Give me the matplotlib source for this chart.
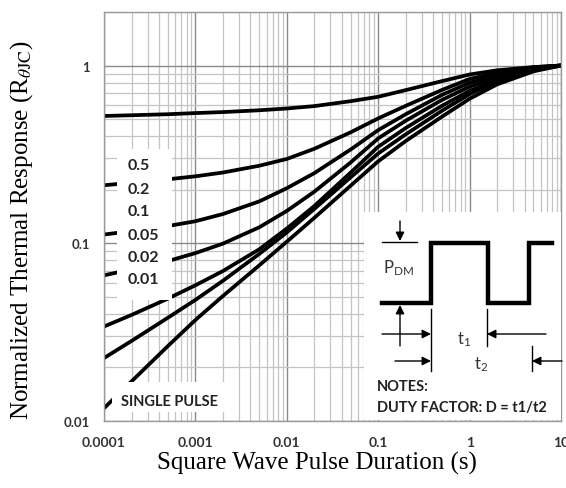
import numpy as np
import matplotlib
matplotlib.use("Agg")
from matplotlib import pyplot as plt
from matplotlib import patches
from matplotlib.ticker import LogLocator, FixedLocator, FixedFormatter, NullFormatter

plt.rcParams["mathtext.fontset"] = "stix"

# pulse duration (s) and normalized thermal response per duty factor
durations = [1e-4, 2e-4, 5e-4, 1e-3, 2e-3, 5e-3, 1e-2, 2e-2, 5e-2, 0.1, 0.2, 0.5, 1, 2, 5, 10]
r_d05 = [0.52, 0.525, 0.532, 0.54, 0.547, 0.56, 0.573, 0.591, 0.63, 0.667, 0.727, 0.817,
         0.89, 0.94, 0.98, 1.0]
r_d02 = [0.212, 0.219, 0.229, 0.238, 0.25, 0.273, 0.298, 0.34, 0.421, 0.504, 0.593, 0.729,
         0.84, 0.912, 0.977, 1.0]
r_d01 = [0.112, 0.117, 0.125, 0.133, 0.146, 0.172, 0.204, 0.248, 0.337, 0.433, 0.532, 0.684,
         0.80, 0.887, 0.97, 1.0]
r_d005 = [0.066, 0.0713, 0.0794, 0.088, 0.0995, 0.123, 0.152, 0.195, 0.285, 0.389, 0.489,
          0.641, 0.76, 0.861, 0.959, 1.0]
r_d002 = [0.034, 0.0395, 0.0488, 0.058, 0.0698, 0.0925, 0.121, 0.162, 0.25, 0.349, 0.445,
          0.594, 0.72, 0.832, 0.946, 1.0]
r_d001 = [0.0226, 0.0282, 0.0381, 0.048, 0.0615, 0.0871, 0.115, 0.156, 0.235, 0.32, 0.41,
          0.557, 0.69, 0.815, 0.938, 1.0]
r_single = [0.0118, 0.0167, 0.0264, 0.037, 0.0505, 0.0751, 0.102, 0.139, 0.211, 0.289, 0.376,
            0.516, 0.65, 0.783, 0.927, 1.0]

duty_labels = ["0.5", "0.2", "0.1", "0.05", "0.02", "0.01"]
x_ticks = [1e-4, 1e-3, 1e-2, 1e-1, 1, 10]
x_ticklabels = ["0.0001", "0.001", "0.01", "0.1", "1", "10"]
y_ticks = [0.01, 0.1, 1]
y_ticklabels = ["0.01", "0.1", "1"]

W, H = 566, 489
fig = plt.figure(figsize=(W / 100, H / 100), dpi=100)
# axes box in pixels: left 104, right 561, top 13, bottom 422
ax = fig.add_axes([104 / W, (H - 422) / H, (561 - 104) / W, (422 - 13) / H])
ax.set_xscale("log")
ax.set_yscale("log")
ax.set_xlim(1e-4, 10)
ax.set_ylim(0.01, 2.0)

ax.xaxis.set_major_locator(FixedLocator(x_ticks))
ax.xaxis.set_major_formatter(FixedFormatter(x_ticklabels))
ax.yaxis.set_major_locator(FixedLocator(y_ticks))
ax.yaxis.set_major_formatter(FixedFormatter(y_ticklabels))
ax.xaxis.set_minor_locator(LogLocator(base=10, subs=np.arange(2, 10), numticks=20))
ax.yaxis.set_minor_locator(LogLocator(base=10, subs=np.arange(2, 10), numticks=20))
ax.xaxis.set_minor_formatter(NullFormatter())
ax.yaxis.set_minor_formatter(NullFormatter())
ax.tick_params(which="both", length=0)
ax.tick_params(axis="x", pad=11, labelsize=10, labelcolor="#333333")
ax.tick_params(axis="y", pad=10, labelsize=9.5, labelcolor="#333333")
for lab in ax.get_xticklabels() + ax.get_yticklabels():
    lab.set_fontfamily("Lato")
    lab.set_fontweight("bold")

ax.grid(which="major", color="#8a8a8a", lw=1.0)
ax.grid(which="minor", color="#c4c4c4", lw=0.9)
ax.set_axisbelow(True)
for s in ax.spines.values():
    s.set_color("#9a9a9a")
    s.set_linewidth(1.0)

for series in [r_d05, r_d02, r_d01, r_d005, r_d002, r_d001, r_single]:
    ax.plot(durations, series, color="black", lw=2.7, solid_capstyle="butt",
            solid_joinstyle="round", zorder=2)

# white boxes behind the labels
ax.add_patch(patches.Rectangle((1.39e-4, 0.048), 5.6e-4 - 1.39e-4, 0.34 - 0.048,
                               facecolor="white", edgecolor="none", zorder=3))
ax.add_patch(patches.Rectangle((1.22e-4, 0.0113), 2.4e-3 - 1.22e-4, 0.0166 - 0.0113,
                               facecolor="white", edgecolor="none", zorder=3))

label_y = [0.274, 0.203, 0.151, 0.111, 0.0834, 0.0627]
for lab, yy in zip(duty_labels, label_y):
    ax.text(1.8e-4, yy, lab, fontsize=11.5, fontfamily="Lato", fontweight="bold",
            color="#222222", va="center", ha="left", zorder=4)
ax.text(1.52e-4, 0.0129, "SINGLE PULSE", fontsize=10.5, fontfamily="Lato", fontweight="bold",
        color="#222222", va="center", ha="left", zorder=4)

ax.set_xlabel("Square Wave Pulse Duration (s)", fontsize=18, fontfamily="Liberation Serif")
ax.set_ylabel(r"Normalized Thermal Response (R$_{\theta\mathrm{JC}}$)", fontsize=18,
              fontfamily="Liberation Serif")
ax.xaxis.set_label_coords(0.466, -0.073)
ax.yaxis.set_label_coords(-0.15, 0.468)

# inset with the duty factor sketch, drawn in pixel coordinates
ov = fig.add_axes([0, 0, 1, 1])
ov.set_xlim(0, W)
ov.set_ylim(H, 0)
ov.axis("off")
ov.patch.set_alpha(0)
ov.add_patch(patches.Rectangle((364, 213), 561 - 364, 422 - 213 - 1,
                               facecolor="white", edgecolor="none"))
wave_x = [382, 431, 431, 488, 488, 529, 529, 552]
wave_y = [304, 304, 244, 244, 304, 304, 244, 244]
ov.plot(wave_x, wave_y, color="black", lw=3.2, solid_joinstyle="miter")

thin = dict(color="black", lw=1.0)
ov.plot([382, 417], [243, 243], **thin)
ov.plot([431, 431], [310, 372], **thin)
ov.plot([487, 487], [310, 347], **thin)
ov.plot([532, 532], [347, 372], **thin)
arrow = dict(arrowstyle="-|>", color="black", lw=1.0, mutation_scale=13, shrinkA=0, shrinkB=0)
ov.annotate("", xy=(400, 242), xytext=(400, 222), arrowprops=arrow)
ov.annotate("", xy=(400, 306), xytext=(400, 347), arrowprops=arrow)
ov.annotate("", xy=(431, 335), xytext=(382, 335), arrowprops=arrow)
ov.annotate("", xy=(487, 335), xytext=(546, 335), arrowprops=arrow)
ov.annotate("", xy=(431, 362), xytext=(395, 362), arrowprops=arrow)
ov.annotate("", xy=(532, 362), xytext=(562, 362), arrowprops=arrow)

ov.text(383, 268, r"P$_{\mathregular{DM}}$", fontsize=12, fontfamily="Lato", color="#333333",
        va="center", ha="left")
ov.text(457, 340, r"t$_{\mathregular{1}}$", fontsize=12, fontfamily="Lato", color="#333333",
        va="center", ha="left")
ov.text(474, 365, r"t$_{\mathregular{2}}$", fontsize=12, fontfamily="Lato", color="#333333",
        va="center", ha="left")
ov.text(377, 387, "NOTES:", fontsize=10.5, fontfamily="Lato", fontweight="bold",
        color="#222222", va="center", ha="left")
ov.text(377, 408, "DUTY FACTOR: D = t1/t2", fontsize=10.5, fontfamily="Lato", fontweight="bold",
        color="#222222", va="center", ha="left")

fig.savefig("out.png", dpi=100)
